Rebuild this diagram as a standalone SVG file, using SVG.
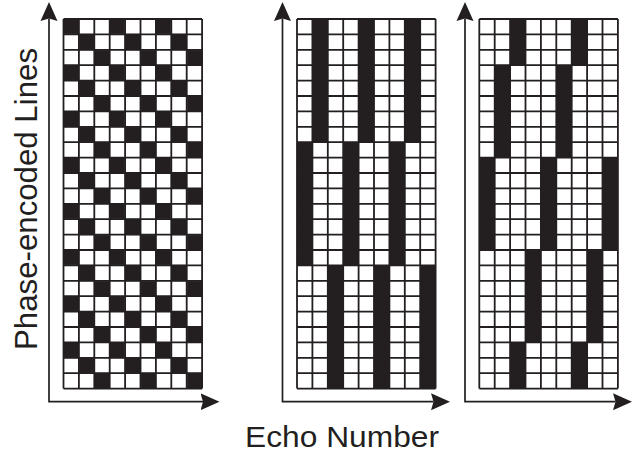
<svg xmlns="http://www.w3.org/2000/svg" xmlns:xlink="http://www.w3.org/1999/xlink" width="633" height="453" viewBox="0 0 633 453">
<style>
.grid{fill:none;stroke:#231f20;stroke-width:1.8}
.blk{fill:#231f20}
.axis{fill:none;stroke:#231f20;stroke-width:1.7;marker-start:url(#arr);marker-end:url(#arr)}
.lbl{font-family:"Liberation Sans",Arial,sans-serif;fill:#231f20}
</style>
<defs>
<marker id="arr" viewBox="0 0 19 18" refX="2.5" refY="9" markerWidth="19" markerHeight="18" markerUnits="userSpaceOnUse" orient="auto-start-reverse">
<path d="M0 0.5L19 9L0 17.5L2.5 9Z" fill="#231f20"/>
</marker>
<pattern id="diag" x="0" y="0" width="46.2" height="46.2" patternUnits="userSpaceOnUse">
<rect x="0" y="0" width="15.4" height="15.4" fill="#231f20"/>
<rect x="15.4" y="15.4" width="15.4" height="15.4" fill="#231f20"/>
<rect x="30.8" y="30.8" width="15.4" height="15.4" fill="#231f20"/>
</pattern>
<path id="gridlines" class="grid" d="M0 0V369.6M15.4 0V369.6M30.8 0V369.6M46.2 0V369.6M61.6 0V369.6M77 0V369.6M92.4 0V369.6M107.8 0V369.6M123.2 0V369.6M138.6 0V369.6M0 0H138.6M0 15.4H138.6M0 30.8H138.6M0 46.2H138.6M0 61.6H138.6M0 77H138.6M0 92.4H138.6M0 107.8H138.6M0 123.2H138.6M0 138.6H138.6M0 154H138.6M0 169.4H138.6M0 184.8H138.6M0 200.2H138.6M0 215.6H138.6M0 231H138.6M0 246.4H138.6M0 261.8H138.6M0 277.2H138.6M0 292.6H138.6M0 308H138.6M0 323.4H138.6M0 338.8H138.6M0 354.2H138.6M0 369.6H138.6"/>
</defs>
<rect width="633" height="453" fill="#fff"/>

<g id="panel1" transform="translate(63.5,19)">
<rect x="0" y="0" width="138.6" height="369.6" fill="#fff"/>
<rect x="0" y="0" width="138.6" height="369.6" fill="url(#diag)"/>
<use xlink:href="#gridlines"/>
</g>

<g id="panel2" transform="translate(297,19)">
<rect x="0" y="0" width="138.6" height="369.6" fill="#fff"/>
<rect class="blk" x="15.4" y="0" width="15.4" height="123.2"/>
<rect class="blk" x="61.6" y="0" width="15.4" height="123.2"/>
<rect class="blk" x="107.8" y="0" width="15.4" height="123.2"/>
<rect class="blk" x="0" y="123.2" width="15.4" height="123.2"/>
<rect class="blk" x="46.2" y="123.2" width="15.4" height="123.2"/>
<rect class="blk" x="92.4" y="123.2" width="15.4" height="123.2"/>
<rect class="blk" x="30.8" y="246.4" width="15.4" height="123.2"/>
<rect class="blk" x="77" y="246.4" width="15.4" height="123.2"/>
<rect class="blk" x="123.2" y="246.4" width="15.4" height="123.2"/>
<use xlink:href="#gridlines"/>
</g>

<g id="panel3" transform="translate(479.3,19)">
<rect x="0" y="0" width="138.6" height="369.6" fill="#fff"/>
<rect class="blk" x="30.8" y="0" width="15.4" height="46.2"/>
<rect class="blk" x="92.4" y="0" width="15.4" height="46.2"/>
<rect class="blk" x="15.4" y="46.2" width="15.4" height="92.4"/>
<rect class="blk" x="77" y="46.2" width="15.4" height="92.4"/>
<rect class="blk" x="0" y="138.6" width="15.4" height="92.4"/>
<rect class="blk" x="61.6" y="138.6" width="15.4" height="92.4"/>
<rect class="blk" x="123.2" y="138.6" width="15.4" height="92.4"/>
<rect class="blk" x="46.2" y="231" width="15.4" height="92.4"/>
<rect class="blk" x="107.8" y="231" width="15.4" height="92.4"/>
<rect class="blk" x="30.8" y="323.4" width="15.4" height="46.2"/>
<rect class="blk" x="92.4" y="323.4" width="15.4" height="46.2"/>
<use xlink:href="#gridlines"/>
</g>

<g id="axes">
<polyline class="axis" points="49,18.5 49,401.7 203,401.7"/>
<polyline class="axis" points="282.5,18.5 282.5,401.7 433.5,401.7"/>
<polyline class="axis" points="465,18.5 465,401.7 615.5,401.7"/>
</g>

<g id="labels">
<text class="lbl" transform="translate(37,199) rotate(-90)" text-anchor="middle" font-size="31" textLength="302" lengthAdjust="spacingAndGlyphs">Phase-encoded Lines</text>
<text class="lbl" x="342" y="447" text-anchor="middle" font-size="29" textLength="194" lengthAdjust="spacingAndGlyphs">Echo Number</text>
</g>
</svg>
